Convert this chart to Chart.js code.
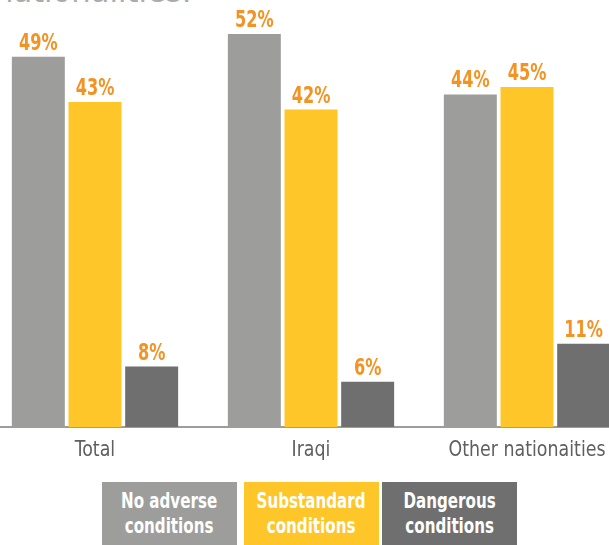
<!DOCTYPE html>
<html lang="en">
<head>
<meta charset="utf-8">
<title>Housing conditions by nationality</title>
<script src="https://cdn.jsdelivr.net/npm/chart.js@4/dist/chart.umd.min.js"></script>
<style>
    html, body { margin: 0; padding: 0; background: #fff; }
    body { width: 609px; height: 545px; position: relative; overflow: hidden; }
    .titulo {
        position: absolute; left: -6px; top: -30px;
        font: 34px 'DejaVu Sans Condensed', 'DejaVu Sans', sans-serif;
        color: #ababab; white-space: nowrap;
    }
    .lienzo { position: absolute; left: -13px; top: 0; width: 648px; height: 475px; }
    .leyenda-caja {
        position: absolute; top: 482px; height: 63px;
        display: flex; align-items: center; justify-content: center;
        text-align: center; color: #fff;
        font: bold 21px 'DejaVu Sans Condensed', 'DejaVu Sans', sans-serif;
        line-height: 25px;
    }
    .leyenda-caja span { display: inline-block; transform: scaleX(0.8); white-space: nowrap; }
</style>
</head>
<body>
<div class="titulo">nationalities.</div>
<div class="lienzo"><canvas id="grafico-vivienda"></canvas></div>
<div id="leyenda"></div>

<script>
'use strict';

/* ── Datos ─────────────────────────────────────────────────────────────── */
const categorias   = ['Total', 'Iraqi', 'Other nationaities'];
const sinProblemas = [49, 52, 44];
const deficientes  = [43, 42, 45];
const peligrosas   = [8, 6, 11];

const nombresSeries = [
    ['No adverse', 'conditions'],
    ['Substandard', 'conditions'],
    ['Dangerous', 'conditions']
];
const coloresSeries = ['#9d9d9c', '#fec629', '#706f6f'];

const FUENTE = "'DejaVu Sans Condensed', 'DejaVu Sans', sans-serif";

// Texto estrechado en horizontal (tipografía condensada)
function textoEstrecho(ctx, texto, x, y, factor) {
    ctx.save();
    ctx.translate(x, y);
    ctx.scale(factor, 1);
    ctx.fillText(texto, 0, 0);
    ctx.restore();
}

/* ── Etiquetas de porcentaje encima de cada barra ──────────────────────── */
const etiquetasValor = {
    id: 'etiquetasValor',
    afterDatasetsDraw(chart) {
        const ctx = chart.ctx;
        ctx.save();
        ctx.font = `bold 23px ${FUENTE}`;
        ctx.fillStyle = '#f39324';
        ctx.textAlign = 'center';
        ctx.textBaseline = 'alphabetic';
        chart.data.datasets.forEach((ds, i) => {
            chart.getDatasetMeta(i).data.forEach((bar, j) => {
                textoEstrecho(ctx, ds.data[j] + '%', bar.x, bar.y - 7, 0.78);
            });
        });
        ctx.restore();
    }
};

/* ── Etiquetas de categoría bajo el eje X ──────────────────────────────── */
const etiquetasEje = {
    id: 'etiquetasEje',
    afterDraw(chart) {
        const eje = chart.scales.x;
        const ctx = chart.ctx;
        ctx.save();
        ctx.font = `22px ${FUENTE}`;
        ctx.fillStyle = '#5f5f5f';
        ctx.textAlign = 'center';
        ctx.textBaseline = 'top';
        eje.ticks.forEach((t, i) => {
            textoEstrecho(ctx, eje.getLabelForValue(t.value), eje.getPixelForTick(i), eje.top + 12, 0.88);
        });
        ctx.restore();
    }
};

/* ── Leyenda en cajas de color ─────────────────────────────────────────── */
function renderLeyenda() {
    const cont = document.getElementById('leyenda');
    const izquierdas = [102, 244, 382];
    nombresSeries.forEach((lineas, i) => {
        const caja = document.createElement('div');
        caja.className = 'leyenda-caja';
        caja.style.left = izquierdas[i] + 'px';
        caja.style.width = '135px';
        caja.style.background = coloresSeries[i];
        caja.innerHTML = '<span>' + lineas.join('<br>') + '</span>';
        cont.appendChild(caja);
    });
}

/* ── Gráfico de barras agrupadas ───────────────────────────────────────── */
function renderGrafico() {
    const canvas = document.getElementById('grafico-vivienda');
    const series = [sinProblemas, deficientes, peligrosas];

    new Chart(canvas, {
        type: 'bar',
        data: {
            labels: categorias,
            datasets: series.map((datos, i) => ({
                label: nombresSeries[i].join(' '),
                data: datos,
                backgroundColor: coloresSeries[i],
                borderWidth: 0,
                categoryPercentage: 0.787,
                barPercentage: 0.935
            }))
        },
        options: {
            responsive: true,
            maintainAspectRatio: false,
            animation: false,
            layout: { padding: 0 },
            plugins: {
                legend: { display: false },
                tooltip: { enabled: false }
            },
            scales: {
                x: {
                    grid: { display: false, drawTicks: false },
                    border: { display: true, color: '#9d9d9c', width: 2 },
                    ticks: { display: false },
                    afterFit: scale => { scale.height = 48; }
                },
                y: {
                    display: false,
                    min: 0,
                    max: 56.5
                }
            }
        },
        plugins: [etiquetasValor, etiquetasEje]
    });
}

document.addEventListener('DOMContentLoaded', () => {
    renderLeyenda();
    renderGrafico();
});
</script>
</body>
</html>
